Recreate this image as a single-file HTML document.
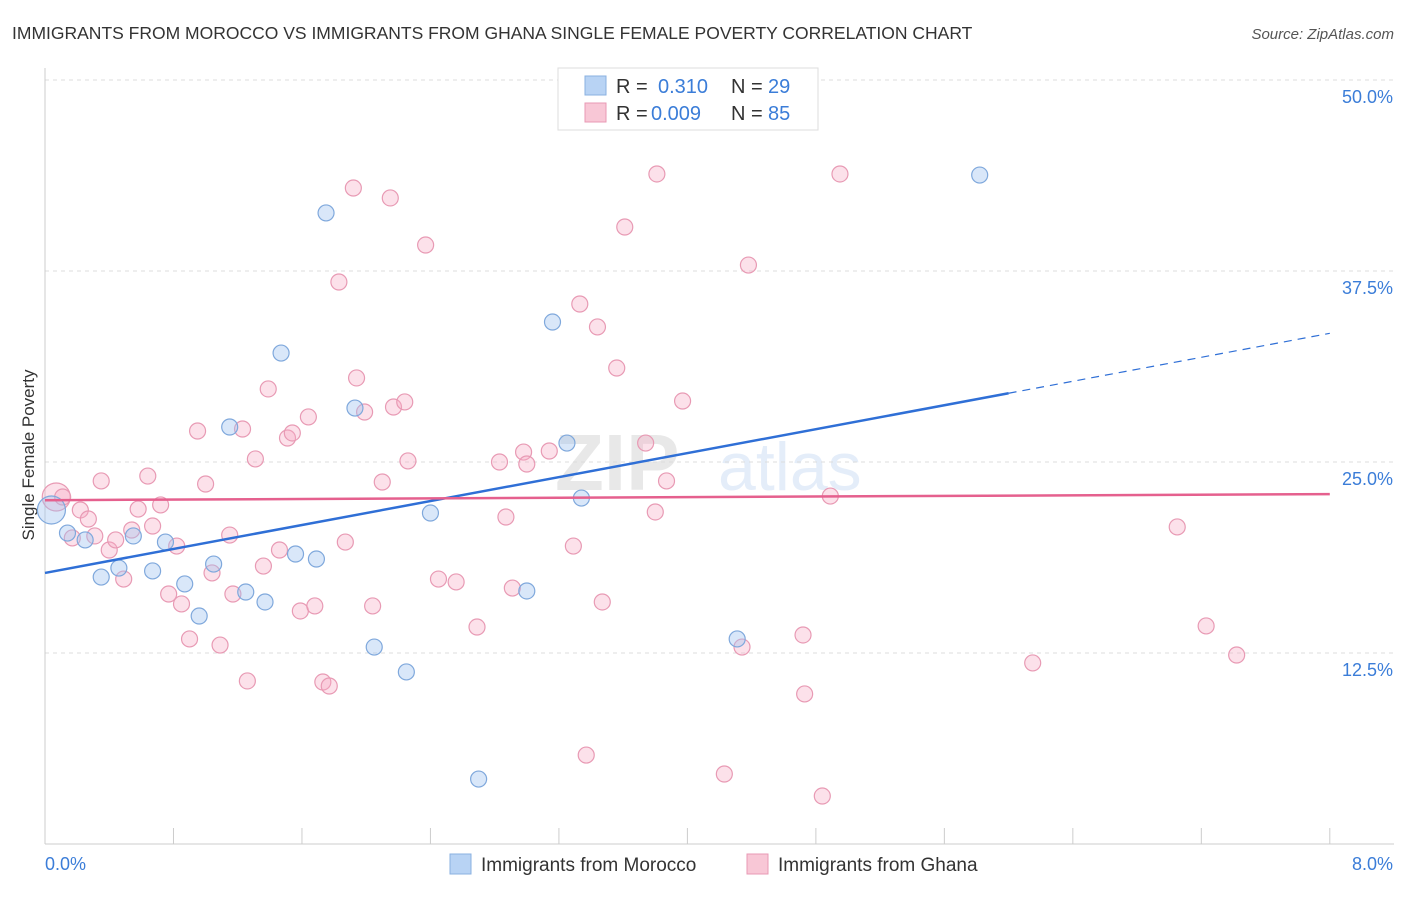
<!DOCTYPE html>
<html><head><meta charset="utf-8"><style>
body{margin:0;background:#fff;font-family:"Liberation Sans",sans-serif;}
svg text{font-family:"Liberation Sans",sans-serif;}
</style></head><body>
<svg id="chart" width="1406" height="892" xmlns="http://www.w3.org/2000/svg">
<text x="12" y="39" font-size="17.5" fill="#333">IMMIGRANTS FROM MOROCCO VS IMMIGRANTS FROM GHANA SINGLE FEMALE POVERTY CORRELATION CHART</text>
<text x="1394" y="39" font-size="15" fill="#555" text-anchor="end" font-style="italic">Source: ZipAtlas.com</text>
<text transform="translate(34,455) rotate(-90)" font-size="17" fill="#333" text-anchor="middle">Single Female Poverty</text>
<g opacity="0.13">
<text x="555" y="490" font-size="80" fill="#555" font-family="Liberation Serif" font-weight="bold">ZIP</text>
<text x="718" y="490" font-size="68" fill="#3b7dd8">atlas</text>
</g>
<g id="grid"></g><g id="axes"></g><g id="pink"></g><g id="blue"></g><g id="lines"></g>
<g>
<rect x="558" y="68" width="260" height="62" fill="#fff" stroke="#ddd"/>
<rect x="585" y="76" width="21" height="19" fill="#b8d3f4" stroke="#8ab0e0"/>
<rect x="585" y="103" width="21" height="19" fill="#f8c7d6" stroke="#e89ab4"/>
<text x="616" y="93" font-size="20" fill="#333">R = </text><text x="658" y="93" font-size="20" fill="#3b7dd8">0.310</text>
<text x="731" y="93" font-size="20" fill="#333">N = </text><text x="768" y="93" font-size="20" fill="#3b7dd8">29</text>
<text x="616" y="120" font-size="20" fill="#333">R = </text><text x="651" y="120" font-size="20" fill="#3b7dd8">0.009</text>
<text x="731" y="120" font-size="20" fill="#333">N = </text><text x="768" y="120" font-size="20" fill="#3b7dd8">85</text>
</g>
<g>
<rect x="450" y="854" width="21" height="20" fill="#b8d3f4" stroke="#8ab0e0"/>
<text x="481" y="871" font-size="19" fill="#333">Immigrants from Morocco</text>
<rect x="747" y="854" width="21" height="20" fill="#f8c7d6" stroke="#e89ab4"/>
<text x="778" y="871" font-size="19" fill="#333">Immigrants from Ghana</text>
</g>
</svg>
<script>
const yTicks=[12.5,25,37.5,50];
const yTickLabels=["12.5%","25.0%","37.5%","50.0%"];
const xTickLabels=["0.0%","8.0%"];
const moroccoX=[0.04,0.14,0.25,0.35,0.46,0.55,0.67,0.75,0.87,0.96,1.05,1.15,1.25,1.37,1.47,1.56,1.69,1.75,1.93,2.05,2.25,2.40,2.70,3.00,3.16,3.25,3.34,4.31,5.82];
const moroccoY=[21.86,20.35,19.9,17.47,18.06,20.16,17.87,19.76,17.02,14.92,18.32,27.29,16.49,15.84,32.13,18.98,18.65,41.3,28.53,12.89,11.26,21.66,4.25,16.56,34.16,26.24,22.64,13.42,43.78];
const ghanaX=[0.07,0.11,0.17,0.22,0.27,0.31,0.35,0.40,0.44,0.49,0.54,0.58,0.64,0.67,0.72,0.77,0.82,0.85,0.90,0.95,1.00,1.04,1.09,1.15,1.17,1.23,1.26,1.31,1.36,1.39,1.46,1.51,1.54,1.59,1.64,1.68,1.73,1.77,1.83,1.87,1.92,1.94,1.99,2.04,2.10,2.15,2.17,2.24,2.26,2.37,2.45,2.56,2.69,2.83,2.87,2.91,2.98,3.00,3.14,3.29,3.33,3.37,3.44,3.47,3.56,3.61,3.74,3.80,3.81,3.87,3.97,4.23,4.25,4.34,4.38,4.72,4.73,4.84,4.89,4.95,6.15,7.05,7.23,7.42];
const ghanaY=[22.71,22.71,20.03,21.86,21.27,20.16,23.76,19.24,19.9,17.34,20.55,21.92,24.08,20.81,22.19,16.36,19.5,15.71,13.42,27.03,23.56,17.74,13.02,20.22,16.36,27.16,10.67,25.2,18.19,29.78,19.24,26.57,26.9,15.25,27.95,15.58,10.6,10.34,36.78,19.76,42.93,30.5,28.27,15.58,23.69,42.28,28.6,28.93,25.07,39.2,17.34,17.15,14.2,25.0,21.4,16.75,25.65,24.87,25.72,19.5,35.34,5.82,33.84,15.84,31.15,40.38,26.24,21.73,43.85,23.76,28.99,4.58,48.49,12.89,37.89,13.68,9.82,3.14,22.77,43.85,11.85,20.75,14.27,12.37];
const moroccoTrend=[17.74,1.96];
const ghanaTrend=[22.5,0.05];
const NS="http://www.w3.org/2000/svg";
const X=v=>45+v*160.6;
const Y=v=>80+(50-v)*15.28;
function mk(tag,attrs,parent){const e=document.createElementNS(NS,tag);for(const k in attrs)e.setAttribute(k,attrs[k]);document.getElementById(parent).appendChild(e);return e;}
yTicks.forEach((t,i)=>{
 const g=mk('line',{x1:45,x2:1394,y1:Y(t),y2:Y(t),stroke:'#ddd','stroke-dasharray':'4,4'},'grid');
 
 
 const l=mk('text',{x:1393,y:Y(t)+23,'font-size':18,fill:'#3b7dd8','text-anchor':'end'},'axes');
 l.textContent=yTickLabels[i];
 
 
});
const ax=mk('line',{x1:45,x2:1394,y1:844,y2:844,stroke:'#ccc'},'axes');


const ay=mk('line',{x1:45,x2:45,y1:68,y2:844,stroke:'#ccc'},'axes');


for(let i=0;i<=10;i++){
 const t=mk('line',{x1:X(i*0.8),x2:X(i*0.8),y1:828,y2:844,stroke:'#ccc'},'axes');
 
 
}
const xl0=mk('text',{x:45,y:870,'font-size':18,fill:'#3b7dd8'},'axes');xl0.textContent=xTickLabels[0];


const xl1=mk('text',{x:1393,y:870,'font-size':18,fill:'#3b7dd8','text-anchor':'end'},'axes');xl1.textContent=xTickLabels[1];


ghanaX.forEach((x,i)=>{
 const c=mk('circle',{cx:X(x),cy:Y(ghanaY[i]),r:i<1?14:8,fill:'rgba(245,170,195,0.35)',stroke:'#e89ab4','stroke-width':1.2},'pink');
 
 
});
moroccoX.forEach((x,i)=>{
 const c=mk('circle',{cx:X(x),cy:Y(moroccoY[i]),r:i<1?14:8,fill:'rgba(160,195,240,0.4)',stroke:'#7fa8dc','stroke-width':1.2},'blue');
 
 
});
const f=(t,x)=>t[0]+t[1]*x;
const bl=mk('line',{x1:X(0),y1:Y(f(moroccoTrend,0)),x2:X(6),y2:Y(f(moroccoTrend,6)),stroke:'#2f6fd6','stroke-width':2.5},'lines');


const bd=mk('line',{x1:X(6),y1:Y(f(moroccoTrend,6)),x2:X(8),y2:Y(f(moroccoTrend,8)),stroke:'#2f6fd6','stroke-width':1.2,'stroke-dasharray':'8,6'},'lines');


const pl=mk('line',{x1:X(0),y1:Y(f(ghanaTrend,0)),x2:X(8),y2:Y(f(ghanaTrend,8)),stroke:'#e5608e','stroke-width':2.5},'lines');


</script>
</body></html>
